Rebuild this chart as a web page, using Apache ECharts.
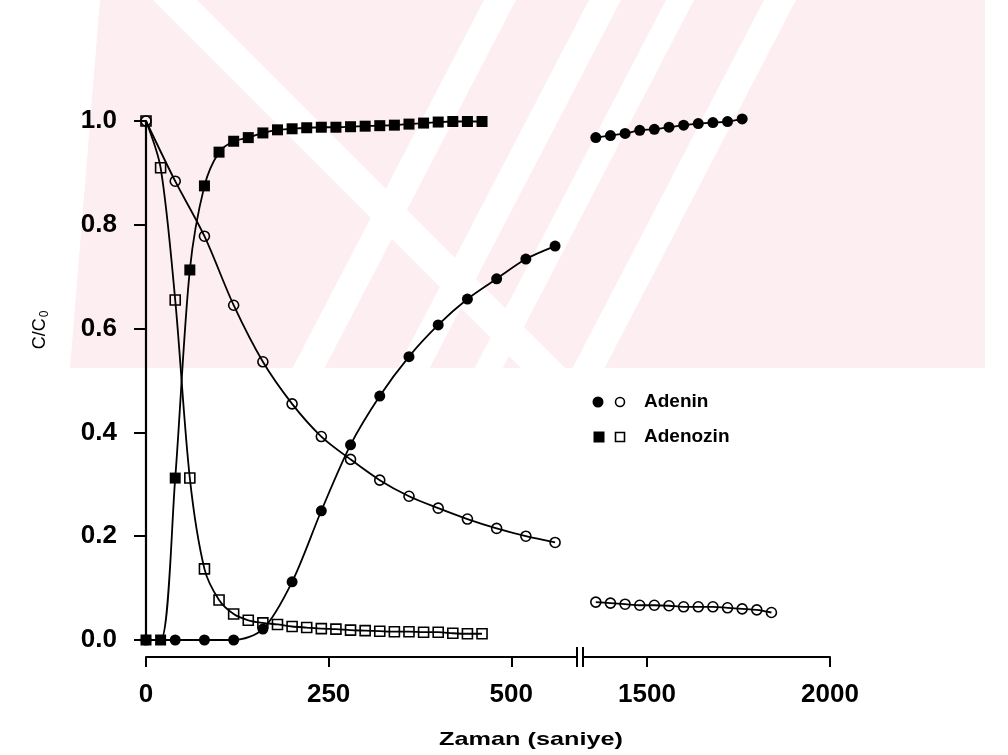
<!DOCTYPE html>
<html>
<head>
<meta charset="utf-8">
<script src="https://cdn.jsdelivr.net/npm/echarts@6/dist/echarts.min.js"></script>
<style>
  html, body { margin: 0; padding: 0; background: #ffffff; }
  #chart { width: 1008px; height: 755px; }
</style>
</head>
<body>
<div id="chart"></div>
<script>
// ---- Data ----
// Left panel (0 - ~590 s)
const adeninTimes = [0, 40, 80, 120, 160, 200, 240, 280, 320, 360, 400, 440, 480, 520, 560];
const adeninReactant = [1.0, 0.884, 0.778, 0.645, 0.536, 0.455, 0.392, 0.348, 0.308, 0.277, 0.254, 0.233, 0.215, 0.200, 0.188];
const adeninProduct = [0.0, 0.0, 0.0, 0.0, 0.021, 0.112, 0.249, 0.376, 0.470, 0.546, 0.607, 0.657, 0.696, 0.734, 0.759];

const adenozinTimes = [0, 20, 40, 60, 80, 100, 120, 140, 160, 180, 200, 220, 240, 260, 280, 300, 320, 340, 360, 380, 400, 420, 440, 460];
const adenozinReactant = [1.0, 0.910, 0.655, 0.312, 0.137, 0.077, 0.050, 0.038, 0.033, 0.030, 0.026, 0.024, 0.022, 0.021, 0.019, 0.018, 0.017, 0.016, 0.016, 0.015, 0.015, 0.013, 0.012, 0.012];
const adenozinProduct = [0.0, 0.0, 0.312, 0.713, 0.875, 0.940, 0.961, 0.968, 0.977, 0.983, 0.985, 0.987, 0.988, 0.988, 0.989, 0.990, 0.991, 0.992, 0.994, 0.996, 0.998, 0.999, 0.999, 0.999];

// Right panel (after axis break)
const lateProductTimes = [1360, 1400, 1440, 1480, 1520, 1560, 1600, 1640, 1680, 1720, 1760];
const lateAdeninProduct = [0.968, 0.972, 0.976, 0.982, 0.984, 0.988, 0.992, 0.995, 0.997, 0.999, 1.004];
const lateReactantTimes = [1360, 1400, 1440, 1480, 1520, 1560, 1600, 1640, 1680, 1720, 1760, 1800, 1840];
const lateAdeninReactant = [0.073, 0.071, 0.069, 0.067, 0.067, 0.066, 0.064, 0.064, 0.064, 0.062, 0.060, 0.058, 0.053];

// Axis settings
const leftXTicks = [0, 250, 500];
const rightXTicks = [1500, 2000];
const xAxisTitle = 'Zaman (saniye)';
const legendNames = ['Adenin', 'Adenozin'];

// ---- Build chart ----
const pairs = (xs, ys) => xs.map((x, i) => [x, ys[i]]);
const FONT = '"Liberation Sans", Arial, sans-serif';
const black = '#000000';
const pink = '#fdeef1';

const lineBase = {
  type: 'line',
  smooth: 0.3,
  clip: false,
  silent: true,
  animation: false,
  lineStyle: { color: black, width: 1.8 },
  emphasis: { disabled: true }
};
const filledCircle = { symbol: 'circle', symbolSize: 11, itemStyle: { color: black } };
const openCircle = { symbol: 'circle', symbolSize: 10, itemStyle: { color: 'rgba(255,255,255,0)', borderColor: black, borderWidth: 1.6 } };
const filledSquare = { symbol: 'rect', symbolSize: 11, itemStyle: { color: black } };
const openSquare = { symbol: 'rect', symbolSize: 10, itemStyle: { color: 'rgba(255,255,255,0)', borderColor: black, borderWidth: 1.6 } };

const axisLabelStyle = { color: black, fontFamily: FONT, fontSize: 26, fontWeight: 'bold' };

// faint background watermark (decorative)
function band(c, k, w, top, bottom) {
  return [[c - w - k * top, top], [c + w - k * top, top], [c + w - k * bottom, bottom], [c - w - k * bottom, bottom]];
}
const wmBottom = 368;
const watermark = [
  { type: 'polygon', silent: true, z: -100, shape: { points: [[100, 0], [985, 0], [985, wmBottom], [70, wmBottom]] }, style: { fill: pink } },
  { type: 'polygon', silent: true, z: -99, shape: { points: band(175, -1.0, 22, 0, wmBottom) }, style: { fill: '#ffffff' } },
  { type: 'polygon', silent: true, z: -99, shape: { points: band(500, 0.52, 16, 0, wmBottom) }, style: { fill: '#ffffff' } },
  { type: 'polygon', silent: true, z: -99, shape: { points: band(605, 0.52, 16, 0, wmBottom) }, style: { fill: '#ffffff' } },
  { type: 'polygon', silent: true, z: -99, shape: { points: band(680, 0.52, 14, 0, wmBottom) }, style: { fill: '#ffffff' } },
  { type: 'polygon', silent: true, z: -99, shape: { points: band(780, 0.52, 16, 0, wmBottom) }, style: { fill: '#ffffff' } }
];

const option = {
  backgroundColor: '#ffffff',
  animation: false,
  grid: [
    { left: 146, top: 121, width: 431, height: 519 },
    { left: 583, top: 121, width: 247, height: 519 }
  ],
  xAxis: [
    {
      gridIndex: 0, type: 'value', min: 0, max: 590, interval: 250, offset: 17,
      axisLine: { show: true, onZero: false, lineStyle: { color: black, width: 2 } },
      axisTick: { show: true, length: 10, lineStyle: { color: black, width: 2 }, customValues: leftXTicks },
      axisLabel: Object.assign({ margin: 25, customValues: leftXTicks, formatter: v => String(v) }, axisLabelStyle),
      splitLine: { show: false }
    },
    {
      gridIndex: 1, type: 'value', min: 1325, max: 2000, offset: 17,
      axisLine: { show: true, onZero: false, lineStyle: { color: black, width: 2 } },
      axisTick: { show: true, length: 10, lineStyle: { color: black, width: 2 }, customValues: rightXTicks },
      axisLabel: Object.assign({ margin: 25, customValues: rightXTicks, formatter: v => String(v) }, axisLabelStyle),
      splitLine: { show: false }
    }
  ],
  yAxis: [
    {
      gridIndex: 0, type: 'value', min: 0, max: 1, interval: 0.2,
      axisLine: { show: true, onZero: false, lineStyle: { color: black, width: 2.2 } },
      axisTick: { show: true, length: 12, lineStyle: { color: black, width: 2 } },
      axisLabel: Object.assign({ margin: 29, formatter: v => v.toFixed(1) }, axisLabelStyle),
      splitLine: { show: false }
    },
    {
      gridIndex: 1, type: 'value', min: 0, max: 1, show: false,
      splitLine: { show: false }
    }
  ],
  series: [
    Object.assign({ name: 'Adenozin (reaktan)', xAxisIndex: 0, yAxisIndex: 0, data: pairs(adenozinTimes, adenozinReactant) }, lineBase, openSquare),
    Object.assign({ name: 'Adenin (reaktan)', xAxisIndex: 0, yAxisIndex: 0, data: pairs(adeninTimes, adeninReactant) }, lineBase, openCircle),
    Object.assign({ name: 'Adenin (ürün)', xAxisIndex: 0, yAxisIndex: 0, data: pairs(adeninTimes, adeninProduct) }, lineBase, filledCircle),
    Object.assign({ name: 'Adenozin (ürün)', xAxisIndex: 0, yAxisIndex: 0, data: pairs(adenozinTimes, adenozinProduct) }, lineBase, filledSquare),
    Object.assign({ name: 'Adenin (ürün) geç', xAxisIndex: 1, yAxisIndex: 1, data: pairs(lateProductTimes, lateAdeninProduct) }, lineBase, filledCircle),
    Object.assign({ name: 'Adenin (reaktan) geç', xAxisIndex: 1, yAxisIndex: 1, data: pairs(lateReactantTimes, lateAdeninReactant) }, lineBase, openCircle)
  ],
  graphic: watermark.concat([
    // axis break marks
    { type: 'line', silent: true, shape: { x1: 577, y1: 647, x2: 577, y2: 667 }, style: { stroke: black, lineWidth: 2 } },
    { type: 'line', silent: true, shape: { x1: 583, y1: 647, x2: 583, y2: 667 }, style: { stroke: black, lineWidth: 2 } },
    // axis titles
    { type: 'text', silent: true, x: 531, y: 740, scaleX: 1.33,
      style: { text: xAxisTitle, font: 'bold 19px ' + FONT, fill: black, align: 'center', verticalAlign: 'middle' } },
    { type: 'text', silent: true, x: 40, y: 330, rotation: Math.PI / 2,
      style: { text: 'C/C{s|0}', font: '18px ' + FONT, fill: black, align: 'center', verticalAlign: 'middle',
        rich: { s: { fontSize: 12, fontFamily: FONT, fill: black, padding: [9, 0, 0, 1] } } } },
    // legend
    { type: 'circle', silent: true, shape: { cx: 598, cy: 402, r: 5.5 }, style: { fill: black } },
    { type: 'circle', silent: true, shape: { cx: 620, cy: 402, r: 4.5 }, style: { fill: 'none', stroke: black, lineWidth: 1.6 } },
    { type: 'text', silent: true, x: 644, y: 402, style: { text: legendNames[0], font: 'bold 19px ' + FONT, fill: black, verticalAlign: 'middle' } },
    { type: 'rect', silent: true, shape: { x: 593.5, y: 431.5, width: 11, height: 11 }, style: { fill: black } },
    { type: 'rect', silent: true, shape: { x: 615.5, y: 432.5, width: 9, height: 9 }, style: { fill: 'none', stroke: black, lineWidth: 1.6 } },
    { type: 'text', silent: true, x: 644, y: 437, style: { text: legendNames[1], font: 'bold 19px ' + FONT, fill: black, verticalAlign: 'middle' } }
  ])
};

const chart = echarts.init(document.getElementById('chart'), null, { renderer: 'canvas' });
chart.setOption(option);
</script>
</body>
</html>
